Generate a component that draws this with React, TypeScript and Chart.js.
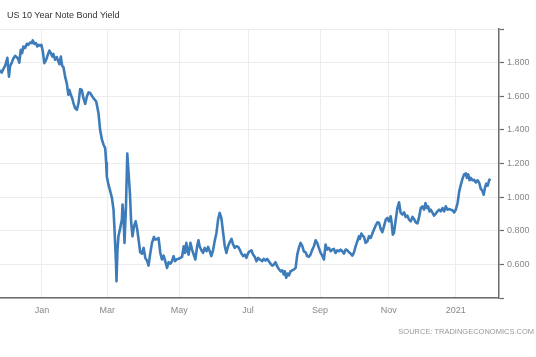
import React, { useEffect, useRef } from "react";
import { Chart, registerables } from "chart.js";

Chart.register(...registerables);

const chartTitle = "US 10 Year Note Bond Yield";
const sourceNote = "SOURCE: TRADINGECONOMICS.COM";

// x = trading-day index (0 = first trading day of Jan 2020)
const monthTickDays = [0, 40, 84, 126, 170, 212, 253];
const monthTickLabels = ["Jan", "Mar", "May", "Jul", "Sep", "Nov", "2021"];
const yieldTicks = [0.4, 0.6, 0.8, 1.0, 1.2, 1.4, 1.6, 1.8, 2.0];

// [trading-day index, yield %]
const yieldSeries: [number, number][] = [
  [-25.6, 1.757], [-24.6, 1.741], [-23.6, 1.761], [-22.5, 1.781], [-21.9, 1.8], [-21.1, 1.829],
  [-20.1, 1.717], [-19.5, 1.777], [-18.4, 1.8], [-17.5, 1.823], [-16.4, 1.84], [-15.4, 1.833],
  [-14.4, 1.821], [-13.8, 1.8], [-12.9, 1.876], [-12.1, 1.856], [-11.3, 1.896], [-10.3, 1.886],
  [-9.2, 1.912], [-8.3, 1.906], [-7.2, 1.92], [-6.2, 1.916], [-5.6, 1.932], [-4.6, 1.912],
  [-3.6, 1.916], [-2.8, 1.896], [-1.9, 1.906], [-1.1, 1.9], [-0.3, 1.906], [0.6, 1.866],
  [1.5, 1.797], [2.6, 1.817], [3.6, 1.846], [4.6, 1.872], [5.5, 1.856], [6.4, 1.836],
  [7.0, 1.852], [8.1, 1.817], [9.1, 1.833], [10.1, 1.807], [10.7, 1.791], [11.6, 1.836],
  [12.4, 1.781], [13.2, 1.773], [14.2, 1.717], [15.2, 1.678], [16.2, 1.609], [16.8, 1.638],
  [17.7, 1.609], [18.5, 1.589], [19.3, 1.56], [20.3, 1.53], [21.4, 1.52], [22.4, 1.56],
  [23.4, 1.643], [24.4, 1.638], [25.4, 1.589], [26.5, 1.555], [27.5, 1.599], [28.5, 1.623],
  [29.5, 1.62], [31.5, 1.589], [33.2, 1.569], [34.6, 1.5], [35.6, 1.401], [36.7, 1.342],
  [37.7, 1.312], [38.7, 1.292], [39.3, 1.204], [39.7, 1.124], [40.7, 1.075], [41.8, 1.035],
  [42.8, 0.996], [43.8, 0.926], [44.4, 0.808], [45.3, 0.61], [45.6, 0.501], [46.2, 0.689],
  [46.8, 0.768], [47.9, 0.818], [48.9, 0.867], [49.3, 0.956], [49.9, 0.887], [50.5, 0.729],
  [51.4, 0.946], [52.2, 1.259], [53.0, 1.144], [53.8, 1.026], [54.6, 0.847], [55.4, 0.768],
  [56.3, 0.827], [57.3, 0.857], [58.3, 0.808], [59.1, 0.748], [60.1, 0.673], [61.2, 0.665],
  [62.2, 0.699], [63.2, 0.64], [64.4, 0.62], [65.2, 0.594], [66.3, 0.669], [67.3, 0.729],
  [68.5, 0.764], [69.3, 0.748], [70.4, 0.752], [71.3, 0.758], [72.4, 0.669], [73.4, 0.63],
  [74.4, 0.653], [75.4, 0.62], [76.5, 0.58], [77.5, 0.614], [78.5, 0.605], [79.5, 0.62],
  [80.5, 0.65], [81.4, 0.62], [82.2, 0.63], [83.6, 0.634], [84.6, 0.64], [85.7, 0.646],
  [86.7, 0.709], [87.5, 0.669], [88.3, 0.729], [89.1, 0.679], [89.7, 0.659], [90.8, 0.729],
  [91.8, 0.689], [92.8, 0.659], [93.8, 0.63], [94.9, 0.709], [95.7, 0.744], [96.4, 0.709],
  [97.5, 0.685], [98.5, 0.669], [99.5, 0.699], [100.6, 0.679], [101.6, 0.705], [102.6, 0.679],
  [103.6, 0.65], [104.7, 0.689], [105.6, 0.738], [106.7, 0.788], [107.7, 0.867], [108.7, 0.907],
  [109.7, 0.877], [110.8, 0.788], [111.8, 0.709], [112.8, 0.669], [113.8, 0.709], [114.8, 0.732],
  [115.9, 0.752], [116.9, 0.719], [117.9, 0.699], [118.9, 0.709], [120.0, 0.705], [120.9, 0.689],
  [122.0, 0.665], [123.0, 0.65], [124.0, 0.659], [125.0, 0.64], [126.1, 0.669], [127.1, 0.679],
  [128.1, 0.685], [129.1, 0.659], [130.1, 0.646], [131.2, 0.62], [132.2, 0.64], [133.2, 0.63],
  [134.7, 0.62], [135.6, 0.634], [136.7, 0.624], [137.7, 0.634], [138.7, 0.62], [139.7, 0.606],
  [140.8, 0.594], [141.8, 0.6], [142.8, 0.614], [143.8, 0.59], [144.8, 0.574], [145.9, 0.56],
  [146.9, 0.566], [147.9, 0.541], [148.5, 0.56], [149.3, 0.521], [150.2, 0.547], [151.0, 0.535],
  [152.0, 0.56], [153.0, 0.566], [154.0, 0.57], [155.1, 0.58], [156.1, 0.659], [157.1, 0.699],
  [158.1, 0.729], [159.2, 0.709], [160.1, 0.679], [161.2, 0.673], [162.2, 0.65], [163.2, 0.646],
  [164.2, 0.659], [165.3, 0.689], [166.3, 0.709], [167.3, 0.744], [168.3, 0.729], [169.3, 0.699],
  [170.4, 0.669], [171.4, 0.653], [172.4, 0.63], [173.4, 0.719], [174.4, 0.689], [175.4, 0.699],
  [176.5, 0.679], [177.5, 0.689], [178.5, 0.693], [179.5, 0.669], [180.6, 0.685], [181.6, 0.679],
  [182.6, 0.689], [183.6, 0.679], [184.6, 0.665], [185.7, 0.689], [186.7, 0.685], [187.7, 0.673],
  [188.7, 0.665], [189.8, 0.653], [190.8, 0.673], [191.8, 0.709], [192.8, 0.738], [193.8, 0.768],
  [194.4, 0.752], [195.3, 0.784], [196.1, 0.772], [196.9, 0.764], [197.9, 0.729], [199.0, 0.738],
  [199.9, 0.768], [201.0, 0.758], [202.0, 0.784], [203.0, 0.808], [204.0, 0.831], [205.1, 0.851],
  [206.1, 0.847], [207.1, 0.812], [208.1, 0.792], [209.1, 0.827], [210.2, 0.867], [211.2, 0.877],
  [212.2, 0.857], [213.2, 0.887], [213.8, 0.847], [214.5, 0.778], [215.2, 0.788], [216.3, 0.867],
  [217.3, 0.936], [218.3, 0.97], [219.3, 0.907], [220.4, 0.897], [221.4, 0.91], [222.4, 0.883],
  [223.4, 0.891], [224.4, 0.867], [225.5, 0.857], [226.5, 0.883], [227.5, 0.871], [228.5, 0.851],
  [229.6, 0.845], [230.6, 0.883], [231.6, 0.936], [232.6, 0.946], [233.6, 0.926], [234.5, 0.966],
  [235.3, 0.936], [236.1, 0.946], [236.9, 0.916], [237.7, 0.926], [238.8, 0.907], [239.7, 0.891],
  [240.8, 0.903], [241.8, 0.916], [242.8, 0.926], [243.8, 0.916], [244.9, 0.936], [245.9, 0.916],
  [246.9, 0.946], [247.9, 0.926], [248.9, 0.93], [250.0, 0.926], [251.0, 0.923], [252.0, 0.91],
  [253.0, 0.926], [254.1, 0.966], [255.1, 1.035], [256.1, 1.075], [257.1, 1.11], [258.1, 1.136],
  [259.2, 1.142], [259.8, 1.115], [260.6, 1.136], [261.4, 1.101], [262.2, 1.115], [263.2, 1.101],
  [264.2, 1.104], [265.3, 1.088], [266.3, 1.101], [267.3, 1.086], [268.3, 1.05], [269.4, 1.035],
  [270.0, 1.015], [270.8, 1.055], [271.6, 1.081], [272.5, 1.069], [273.4, 1.101], [274.0, 1.11],
];

const FONT = "Arial, 'Liberation Sans', sans-serif";

export default function App() {
  const canvasRef = useRef<HTMLCanvasElement>(null);

  useEffect(() => {
    if (!canvasRef.current) return;
    const chart = new Chart(canvasRef.current, {
      type: "line",
      data: {
        datasets: [
          {
            data: yieldSeries.map(([x, y]) => ({ x, y })),
            borderColor: "#3d7cb9",
            borderWidth: 2.6,
            pointRadius: 0,
            tension: 0,
            borderJoinStyle: "round",
            fill: false,
          },
        ],
      },
      options: {
        animation: false,
        responsive: false,
        maintainAspectRatio: false,
        layout: { padding: { top: 29, right: 3.5, bottom: 34, left: 0 } },
        plugins: {
          legend: { display: false },
          tooltip: { enabled: false },
          title: { display: false },
        },
        scales: {
          x: {
            type: "linear",
            min: -25.6,
            max: 279.4,
            afterBuildTicks: (scale: any) => {
              scale.ticks = monthTickDays.map((v) => ({ value: v }));
            },
            ticks: {
              callback: (_v: any, i: number) => monthTickLabels[i] ?? "",
              color: "#888",
              font: { family: FONT, size: 9 },
              padding: 7,
              maxRotation: 0,
              autoSkip: false,
            },
            grid: { color: "#ececec", drawTicks: false },
            border: { color: "#6b6b6b", width: 1.5 },
          },
          y: {
            position: "right",
            min: 0.4,
            max: 2.0,
            afterBuildTicks: (scale: any) => {
              scale.ticks = yieldTicks.map((v) => ({ value: v }));
            },
            ticks: {
              callback: (v: any) => {
                const n = Number(v);
                return n < 0.5 || n > 1.9 ? "" : n.toFixed(3);
              },
              color: "#888",
              font: { family: FONT, size: 9 },
              padding: 3,
            },
            grid: { color: "#ececec", tickColor: "#6b6b6b", tickLength: 5, drawTicks: true, tickWidth: 1.2 },
            border: { color: "#6b6b6b", width: 1.5 },
          },
        },
      } as any,
    });
    return () => chart.destroy();
  }, []);

  return (
    <div style={{ position: "absolute", left: 0, top: 0, width: 536, height: 357, background: "#fff", overflow: "hidden" }}>
      <canvas ref={canvasRef} width={536} height={357} style={{ position: "absolute", left: 0, top: 0, width: 536, height: 357 }} />
      <div style={{ position: "absolute", left: 7, top: 9, fontFamily: FONT, fontSize: 9, lineHeight: "12px", color: "#333", whiteSpace: "nowrap" }}>
        {chartTitle}
      </div>
      <div style={{ position: "absolute", right: 2, top: 327, fontFamily: FONT, fontSize: 7.5, lineHeight: "10px", color: "#999", whiteSpace: "nowrap" }}>
        {sourceNote}
      </div>
    </div>
  );
}
